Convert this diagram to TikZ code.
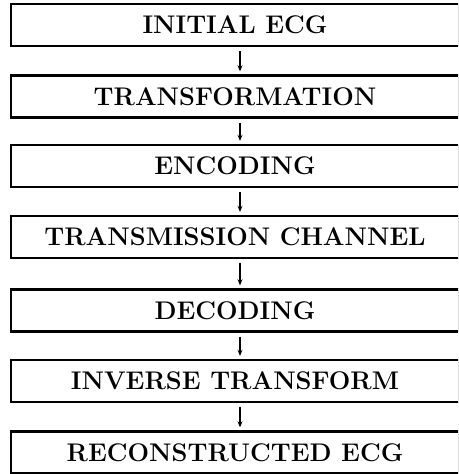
\documentclass[tikz,border=0pt]{standalone}
\usetikzlibrary{arrows.meta}
\begin{document}
\begin{tikzpicture}[x=1pt,y=-1pt,
  stage/.style={draw=black, line width=2.4pt, rectangle, minimum width=448pt,
    minimum height=42pt, inner sep=0pt, font=\fontsize{25.5}{30}\selectfont\bfseries},
  flow/.style={line width=1.1pt, -{Stealth[length=6pt,width=5pt]},
    shorten <=4pt, shorten >=3pt}]
\useasboundingbox (0,0) rectangle (458,474);
\clip (0,0) rectangle (458,474);
\node[stage] (s1) at (235,25)    {INITIAL ECG};
\node[stage] (s2) at (235,96.5)  {TRANSFORMATION};
\node[stage] (s3) at (235,166)   {ENCODING};
\node[stage] (s4) at (235,237)   {TRANSMISSION CHANNEL};
\node[stage] (s5) at (235,310.5) {DECODING};
\node[stage] (s6) at (235,381)   {INVERSE TRANSFORM};
\node[stage] (s7) at (235,452.5) {RECONSTRUCTED ECG};
\foreach \a/\b in {s1/s2,s2/s3,s3/s4,s4/s5,s5/s6,s6/s7}
  \draw[flow] ([xshift=5pt]\a.south) -- ([xshift=5pt]\b.north);
\end{tikzpicture}
\end{document}
